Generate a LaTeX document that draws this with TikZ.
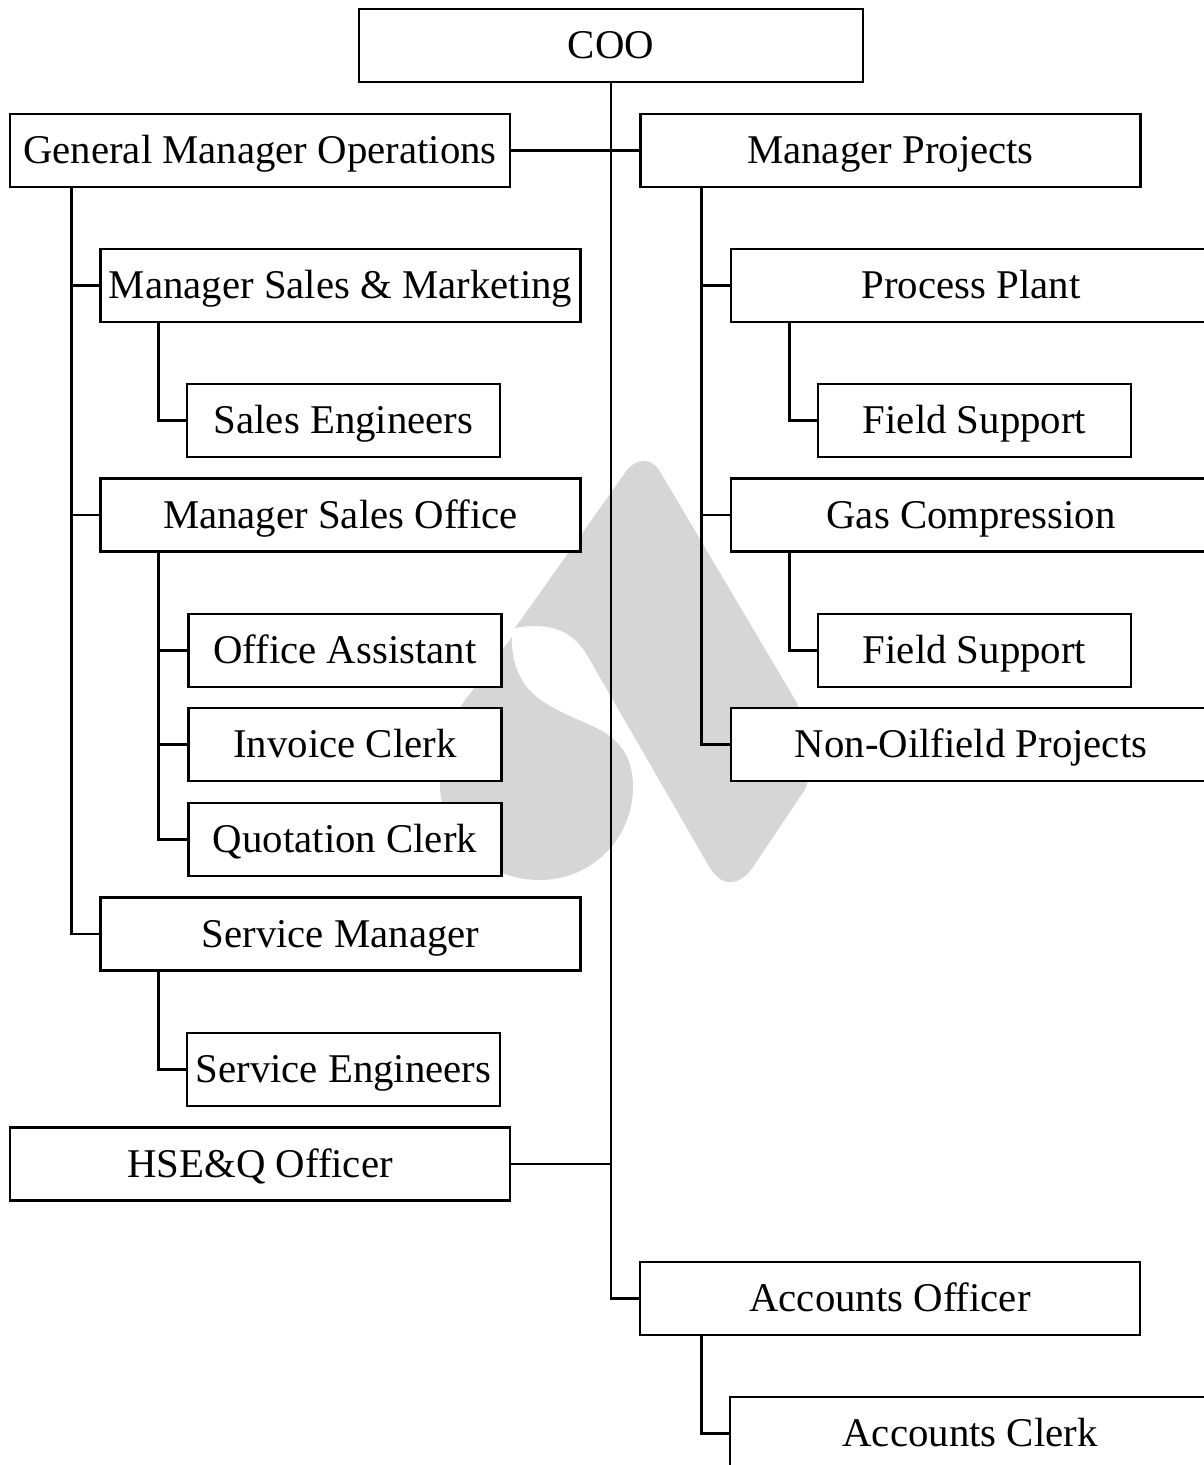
\documentclass[tikz,border=0pt]{standalone}
\usepackage{fontspec}
\setmainfont{Liberation Serif}
\definecolor{markgray}{HTML}{D6D6D6}
\tikzset{
    orgbox/.style={draw,fill=white,line width=2.9pt,inner sep=0pt,minimum height=73pt,
        text height=26pt,text depth=0pt,font=\fontsize{40.8}{48}\selectfont},
    orgline/.style={line width=2.9pt}
}

\begin{document}
\begin{tikzpicture}[x=1pt,y=-1pt]
    \clip[use as bounding box] (0,0) rectangle (1204,1465);
    \fill[markgray] (515,628) .. controls (550,622) and (572,630) .. (587,655)
        -- (707,863) .. controls (716,878) and (722,882) .. (730,882)
        .. controls (738,882) and (745,878) .. (753,867)
        -- (804,791) .. controls (812,778) and (813,752) .. (797,703)
        -- (662,475) .. controls (657,466) and (652,461) .. (645,461)
        .. controls (638,461) and (633,463) .. (627,470) -- cycle;
    \fill[markgray] (512,637) -- (460,707) .. controls (446,727) and (440,755) .. (440,783)
        .. controls (440,838) and (485,880) .. (540,880)
        .. controls (592,880) and (633,838) .. (633,787)
        .. controls (633,755) and (618,737) .. (590,725)
        .. controls (570,716) and (550,708) .. (537,697)
        .. controls (520,684) and (511,662) .. (512,637) -- cycle;
    \foreach \name/\cx/\cy/\boxw/\desc in {
        coo/611/45.5/504/COO,
        gmo/260/150.5/500/General Manager Operations,
        mp/890.5/150.5/500/Manager Projects,
        msm/340.5/285.5/480/Manager Sales \& Marketing,
        se/343.5/420.5/313/Sales Engineers,
        mso/340.5/515/480/Manager Sales Office,
        oa/345/650.5/313/Office Assistant,
        ic/345/744.5/313/Invoice Clerk,
        qc/345/839.5/313/Quotation Clerk,
        sm/340.5/934/480/Service Manager,
        sve/343.5/1069.5/313/Service Engineers,
        hse/260/1164/500/HSE\&Q Officer,
        pp/971/285.5/480/Process Plant,
        fsa/974.5/420.5/313/Field Support,
        gc/971/515/480/Gas Compression,
        fsb/974.5/650.5/313/Field Support,
        nop/971/744.5/480/Non-Oilfield Projects,
        ao/890/1298.5/500/Accounts Officer,
        ac/970/1433.5/480/Accounts Clerk} {
        \node[orgbox,minimum width=\boxw pt] (\name) at (\cx,\cy) {\desc};
    }
    % trunk from the top box
    \draw[orgline] (coo.south) -- (coo.south |- ao.west) -- (ao.west);
    \draw[orgline] (gmo.east) -- (mp.west);
    \draw[orgline] (hse.east) -- (hse.east -| coo.south);
    % stems below the boxes
    \foreach \from/\off/\to in {gmo/62.5/msm, gmo/62.5/mso, gmo/62.5/sm, msm/59.5/se, mso/59.5/oa, mso/59.5/ic, mso/59.5/qc,
        sm/59.5/sve, mp/62.5/pp, mp/62.5/gc, mp/62.5/nop, pp/59.5/fsa, gc/59.5/fsb, ao/62.5/ac} {
        \draw[orgline] ([xshift=\off pt]\from.south west) |- (\to.west);
    }
\end{tikzpicture}
\end{document}
